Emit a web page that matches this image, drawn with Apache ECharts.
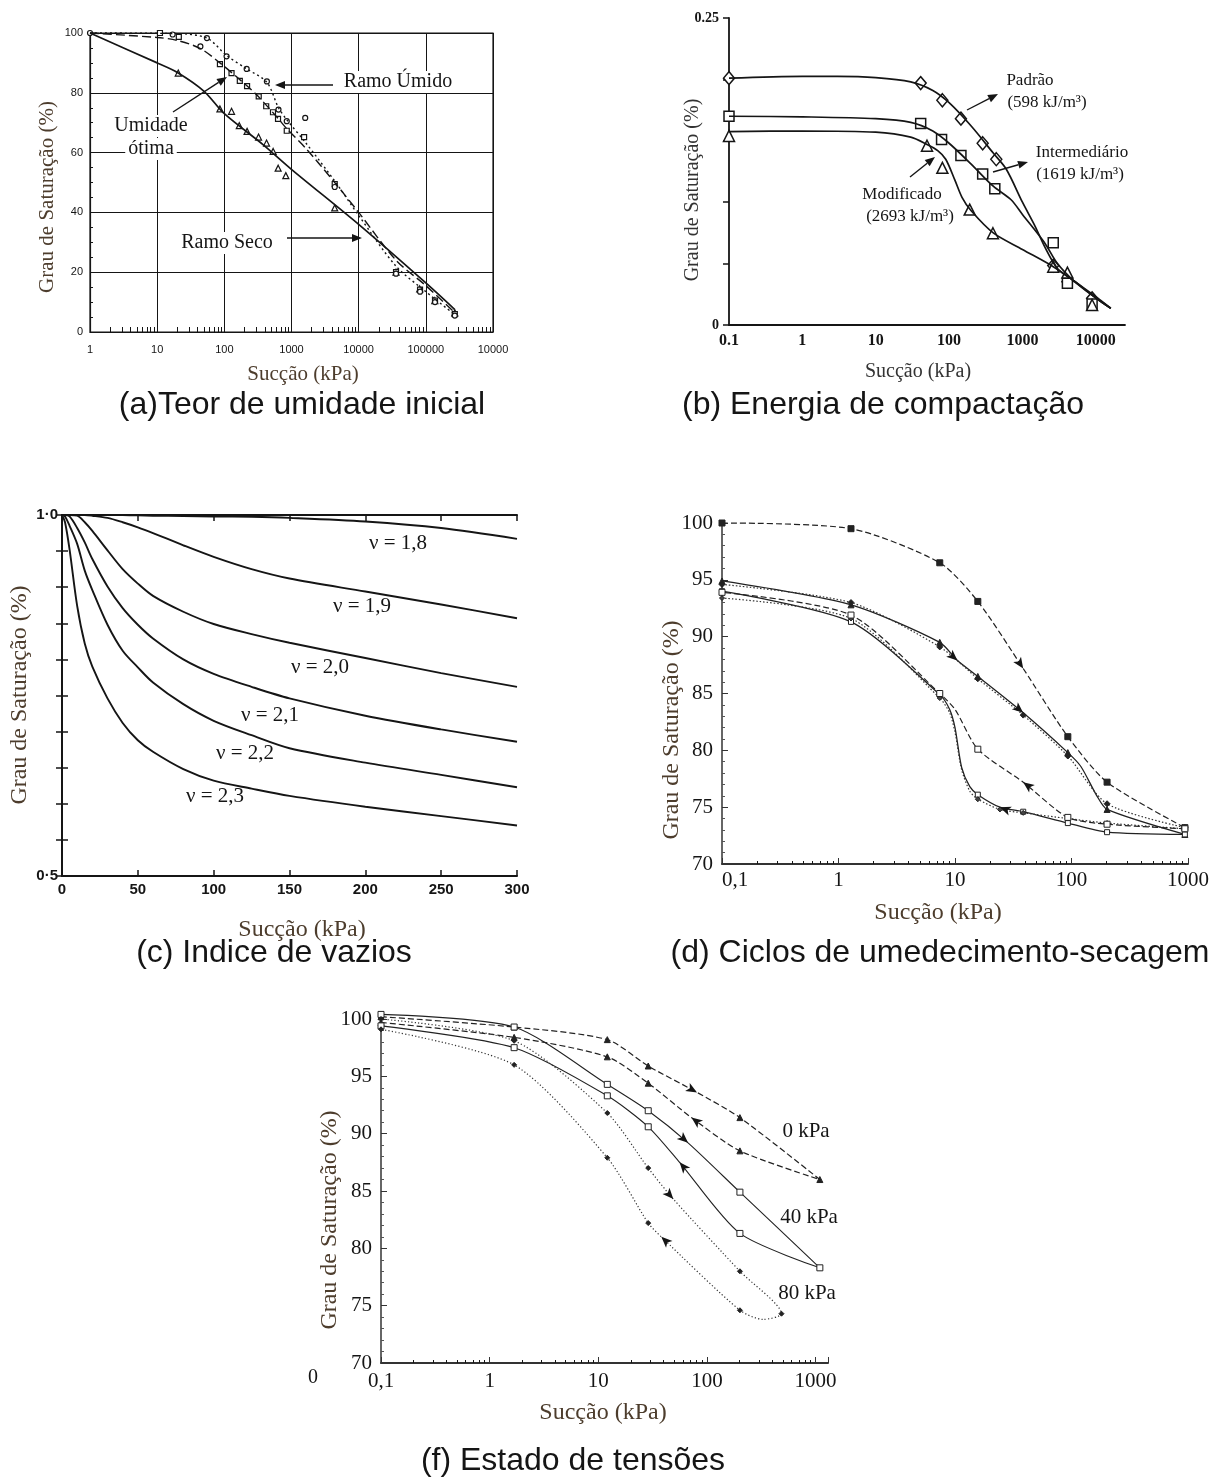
<!DOCTYPE html>
<html>
<head>
<meta charset="utf-8">
<script src="https://cdn.jsdelivr.net/npm/echarts@6/dist/echarts.min.js"></script>
<style>
  html, body { margin: 0; padding: 0; background: #fff; }
  #main { width: 1214px; height: 1479px; }
</style>
</head>
<body>
<div id="main"></div>
<script>
// ---- (a) Teor de umidade inicial ----
const aXLabels = ['1', '10', '100', '1000', '10000', '100000', '10000'];
const aSolid = [[1,100],[10,90],[20,86.8],[50,80.5],[100,73],[380,62.6],[1050,54],[10000,36],[100000,16.4],[270000,7.5]];
const aDashed = [[1,100],[10,98.5],[20,97.5],[44,94.8],[86,90],[170,84.4],[300,79.4],[600,72],[850,68],[1700,61],[4400,50],[10000,40],[36000,24],[100000,15.5],[270000,6.5]];
const aDotted = [[1,100],[20,99.8],[55,98.3],[108,92.5],[215,88],[430,83.5],[640,75],[850,71],[1600,63.5],[4400,50.5],[10000,39],[36000,22],[100000,13.5],[270000,5.8]];
const aTri = [[20.6,86.6],[86,74.6],[128,73.8],[167,69],[218,67.1],[323,65.2],[425,63.2],[533,60.4],[633,54.8],[823,52.3],[4400,41.5],[36000,20],[81000,14.4],[136000,10.5],[270000,6.4]];
const aSq = [[11,100],[21,98.7],[86,89.6],[128,86.6],[170,84],[218,82.2],[325,78.8],[420,75.5],[530,73.5],[630,71.3],[850,67.3],[1540,65.2],[4400,49.5],[36000,20],[82000,14.2],[137000,10.5],[270000,6]];
const aCirc = [[1,100],[17,99.5],[44,95.5],[55,98.3],[108,92.2],[215,88],[430,83.8],[640,74.4],[850,70.5],[1600,71.6],[4400,48.5],[36000,19.5],[82000,13.5],[137000,10],[270000,5.5]];

// ---- (b) Energia de compactação ----
const bXLabels = ['0.1', '1', '10', '100', '1000', '10000'];
const bPadraoCurve = [[0.1,0.201],[1,0.2025],[3,0.2025],[10,0.2015],[30,0.198],[60,0.191],[100,0.181],[200,0.162],[400,0.140],[600,0.127],[1000,0.100],[1500,0.080],[2000,0.064],[3000,0.046],[5000,0.036],[10000,0.023],[16000,0.0136]];
const bInterCurve = [[0.1,0.170],[1,0.1695],[10,0.168],[30,0.165],[60,0.158],[100,0.148],[200,0.131],[400,0.113],[700,0.102],[1000,0.090],[2000,0.067],[3000,0.050],[5000,0.036],[10000,0.022],[16000,0.0136]];
const bModCurve = [[0.1,0.1575],[1,0.158],[10,0.157],[30,0.153],[50,0.147],[70,0.142],[90,0.135],[120,0.118],[150,0.104],[200,0.093],[400,0.075],[1000,0.0615],[2630,0.0475],[5000,0.036],[10000,0.022],[16000,0.0136]];
const bPadraoPts = [[0.1,0.201],[41,0.197],[81,0.183],[145,0.168],[287,0.148],[440,0.135],[2630,0.0484],[4100,0.0353],[8900,0.0217]];
const bInterPts = [[0.1,0.170],[41,0.164],[79,0.151],[145,0.138],[287,0.123],[420,0.111],[2630,0.067],[4100,0.034],[8900,0.0171]];
const bModPts = [[0.1,0.154],[50,0.146],[81,0.128],[191,0.094],[396,0.0747],[2630,0.0475],[4100,0.0427],[8900,0.0163]];

// ---- (c) Indice de vazios ----
const cX = [0, 2, 5, 10, 15, 20, 30, 40, 50, 60, 80, 100, 125, 150, 200, 250, 300];
const c18 = [1.0,1.0,1.0,1.0,1.0,1.0,1.0,1.0,0.9995,0.999,0.9985,0.998,0.9975,0.996,0.991,0.982,0.967];
const c19 = [1.0,1.0,1.0,1.0,1.0,0.999,0.996,0.990,0.983,0.975,0.958,0.942,0.925,0.912,0.894,0.876,0.857];
const c20 = [1.0,1.0,1.0,0.999,0.990,0.978,0.951,0.925,0.905,0.888,0.866,0.849,0.835,0.823,0.802,0.781,0.762];
const c21 = [1.0,1.0,0.998,0.982,0.962,0.939,0.901,0.871,0.848,0.829,0.800,0.780,0.762,0.746,0.722,0.703,0.686];
const c22 = [1.0,0.998,0.985,0.960,0.923,0.896,0.848,0.812,0.789,0.768,0.738,0.715,0.695,0.677,0.657,0.640,0.623];
const c23 = [1.0,0.990,0.952,0.874,0.822,0.790,0.746,0.712,0.688,0.672,0.648,0.632,0.621,0.611,0.596,0.583,0.570];
const cNames = ['ν = 1,8', 'ν = 1,9', 'ν = 2,0', 'ν = 2,1', 'ν = 2,2', 'ν = 2,3'];

// ---- (d) Ciclos de umedecimento-secagem ----
const dXLabels = ['0,1', '1', '10', '100', '1000'];
const dTop = [[0.1,100],[1.28,99.5],[7.4,96.5],[15.7,93.1],[38.5,87.2],[93,81.2],[202,77.2],[940,73.2]];
const dUpSolid = [[0.1,94.9],[1.28,92.8],[7.4,89.5],[10.5,87.9],[15.7,86.5],[38.5,83.3],[93,79.8],[120,78.6],[165,76.0],[202,74.8],[940,72.6]];
const dUpDotted = [[0.1,94.6],[1.28,93.0],[7.4,89.1],[15.7,86.3],[38.5,83.1],[93,79.5],[202,75.3],[940,73.2]];
const dLowSolid = [[940,72.6],[202,72.8],[93,73.6],[38.5,74.6],[24.3,75.0],[15.7,76.1],[13.4,76.8],[11.4,78.5],[10,82],[9,83.6],[7.4,84.9],[1.28,91.3],[0.1,94.0]];
const dLowDotted = [[940,73.1],[202,73.6],[93,74.0],[38.5,74.5],[24.3,74.8],[15.7,75.7],[13.4,76.4],[11.4,78.3],[10,81.6],[9,83.3],[7.4,84.6],[1.28,91.6],[0.1,93.4]];
const dLowDashed = [[940,73.1],[202,73.5],[93,74.1],[38.5,77.2],[15.7,80.1],[10,83.6],[7.4,85.0],[1.28,91.9],[0.1,93.9]];

// ---- (f) Estado de tensões ----
const fXLabels = ['0,1', '1', '10', '100', '1000'];
const f0 = [[0.1,100.2],[1.68,99.3],[12.1,98.2],[28.8,95.9],[81,93.6],[201,91.4],[1094,86.0],[201,88.5],[72,91.4],[28.8,94.4],[12.1,96.7],[1.68,98.4],[0.1,99.7]];
const f40 = [[0.1,100.4],[1.68,99.3],[12.1,94.3],[28.8,92.0],[67,89.2],[201,84.9],[1094,78.3],[201,81.3],[56,87.5],[28.8,90.6],[12.1,93.3],[1.68,97.5],[0.1,99.4]];
const f80 = [[0.1,100.0],[1.68,98.1],[12.1,91.8],[28.8,87.0],[49,84.3],[201,78.0],[485,74.3],[329,73.8],[201,74.6],[38,81.0],[28.8,82.2],[12.1,87.9],[1.68,96.0],[0.1,99.1]];
const fNames = ['0 kPa', '40 kPa', '80 kPa'];

const SERIF = "'Liberation Serif', 'Times New Roman', serif";
const SANS = "'Liberation Sans', Arial, sans-serif";
const INK = '#151515';
const BROWN = '#4d3d2d';

function decadeFmt(labels, e0) {
  return function (v) {
    const e = Math.log10(v), r = Math.round(e);
    if (Math.abs(e - r) > 1e-6) return '';
    return labels[r - e0] !== undefined ? labels[r - e0] : '';
  };
}
function logMinor(lo, hi) {
  const out = [];
  for (let e = Math.floor(Math.log10(lo)); e <= Math.ceil(Math.log10(hi)); e++) {
    for (let k = 2; k <= 9; k++) {
      const v = k * Math.pow(10, e);
      if (v > lo * 1.0001 && v < hi * 0.9999) out.push(v);
    }
  }
  return out;
}
function minorAxis(grid, min, max, len) {
  return { gridIndex: grid, type: 'log', min: min, max: max, position: 'bottom',
    axisLine: { show: false }, axisLabel: { show: false }, splitLine: { show: false },
    axisTick: { show: true, inside: true, length: len, customValues: logMinor(min, max),
      lineStyle: { color: INK, width: 1 } } };
}

const ARROWS = [];
function line(xi, yi, data, ls, extra) {
  return Object.assign({ type: 'line', xAxisIndex: xi, yAxisIndex: yi, data: data, smooth: 0.3,
    symbol: 'none', clip: false, animation: false,
    lineStyle: Object.assign({ color: INK, width: 1.5 }, ls) }, extra || {});
}
function scatter(xi, yi, data, symbol, size, fill, bw) {
  return { type: 'scatter', xAxisIndex: xi, yAxisIndex: yi, data: data, symbol: symbol,
    symbolSize: size, animation: false,
    itemStyle: { color: fill || '#fff', borderColor: INK, borderWidth: bw || 1, opacity: 1 } };
}
function marked(xi, yi, pts, arrows, plain, ls, sym, size, fill) {
  const data = pts.map(function (p, i) {
    if (arrows.indexOf(i) >= 0) return { value: p, symbol: 'arrow', symbolSize: [7, 11], itemStyle: { color: INK, borderWidth: 0 } };
    if (plain.indexOf(i) >= 0) return { value: p, symbol: 'none' };
    return { value: p };
  });
  const s = line(xi, yi, data, ls, { smooth: 0.25, symbol: sym, symbolSize: size, showSymbol: true,
    itemStyle: { color: fill, borderColor: '#222', borderWidth: 1 } });
  if (arrows.length) ARROWS.push({ s: s, pts: pts, arrows: arrows, xi: xi, yi: yi });
  return s;
}

// graphic texts and arrows
const G = [];
function label(x, y, text, size, opt) {
  opt = opt || {};
  G.push({ type: 'text', x: x, y: y, rotation: opt.rot || 0, z: 50,
    style: { text: text, fill: opt.color || INK, fontSize: size, fontFamily: opt.family || SERIF,
      fontWeight: opt.weight || 'normal', align: 'center', verticalAlign: 'middle',
      backgroundColor: opt.bg, padding: opt.bg ? [1, 3] : 0 } });
}
function arrow(x1, y1, x2, y2) {
  const a = Math.atan2(y2 - y1, x2 - x1), h = 10, w = 4;
  const bx = x2 - h * Math.cos(a), by = y2 - h * Math.sin(a);
  G.push({ type: 'line', z: 50, shape: { x1: x1, y1: y1, x2: bx, y2: by }, style: { stroke: INK, lineWidth: 1.4 } });
  G.push({ type: 'polygon', z: 50, shape: { points: [[x2, y2], [bx - w * Math.sin(a), by + w * Math.cos(a)], [bx + w * Math.sin(a), by - w * Math.cos(a)]] }, style: { fill: INK } });
}

// (a) annotations
label(398, 82, 'Ramo Úmido', 20, { bg: '#fff' });
arrow(333, 85, 275, 85);
label(151, 126, 'Umidade', 20, { bg: '#fff' });
label(151, 149, 'ótima', 20, { bg: '#fff' });
arrow(173, 112, 227, 77);
label(227, 243, 'Ramo Seco', 20, { bg: '#fff' });
arrow(287, 238, 362, 238);
label(47, 197, 'Grau de Saturação (%)', 21, { rot: Math.PI / 2, color: BROWN });
label(303, 374, 'Sucção (kPa)', 21, { color: BROWN });
// (b) annotations
label(1030, 81, 'Padrão', 17);
label(1047, 103, '(598 kJ/m³)', 17);
arrow(967, 110, 998, 94);
label(1082, 153, 'Intermediário', 17);
label(1080, 175, '(1619 kJ/m³)', 17);
arrow(993, 172, 1028, 162);
label(902, 195, 'Modificado', 17);
label(910, 217, '(2693 kJ/m³)', 17);
arrow(910, 177, 935, 157);
label(693, 190, 'Grau de Saturação (%)', 20, { rot: Math.PI / 2, color: '#333' });
label(918, 372, 'Sucção (kPa)', 20, { color: '#333' });
// (c) curve labels
const cLabelPos = [[398, 543], [362, 606], [320, 667], [270, 715], [245, 753], [215, 796]];
cNames.forEach(function (n, i) { label(cLabelPos[i][0], cLabelPos[i][1], n, 21); });
label(20, 695, 'Grau de Saturação (%)', 24, { rot: Math.PI / 2, color: BROWN });
label(302, 930, 'Sucção (kPa)', 24, { color: BROWN });
// (d)
label(672, 730, 'Grau de Saturação (%)', 24, { rot: Math.PI / 2, color: BROWN });
label(938, 913, 'Sucção (kPa)', 24, { color: BROWN });
// (f)
const fLabelPos = [[806, 1131], [809, 1217], [807, 1293]];
fNames.forEach(function (n, i) { label(fLabelPos[i][0], fLabelPos[i][1], n, 21); });
label(313, 1378, '0', 20);
label(330, 1220, 'Grau de Saturação (%)', 24, { rot: Math.PI / 2, color: BROWN });
label(603, 1413, 'Sucção (kPa)', 24, { color: BROWN });
// captions
label(302, 405, '(a)Teor de umidade inicial', 32, { family: SANS });
label(883, 405, '(b) Energia de compactação', 32, { family: SANS });
label(274, 953, '(c) Indice de vazios', 32, { family: SANS });
label(940, 953, '(d) Ciclos de umedecimento-secagem', 32, { family: SANS });
label(573, 1461, '(f) Estado de tensões', 32, { family: SANS });

function zip(xs, ys) { return xs.map(function (x, i) { return [x, ys[i]]; }); }

const series = [
  // (a)
  line(0, 0, aSolid, { width: 1.7 }),
  line(0, 0, aDashed, { width: 1.4, type: [9, 4] }),
  line(0, 0, aDotted, { width: 1.4, type: [2, 3] }),
  scatter(0, 0, aTri, 'triangle', 6, '#fff', 1.2),
  scatter(0, 0, aSq, 'rect', 5, '#fff', 1.2),
  scatter(0, 0, aCirc, 'circle', 5, '#fff', 1.2),
  // (b)
  line(2, 1, bPadraoCurve, { width: 1.7 }),
  line(2, 1, bInterCurve, { width: 1.7 }),
  line(2, 1, bModCurve, { width: 1.7 }),
  scatter(2, 1, bPadraoPts, 'diamond', [11, 13], '#fff', 1.5),
  scatter(2, 1, bInterPts, 'rect', 10, '#fff', 1.5),
  scatter(2, 1, bModPts, 'triangle', 11, '#fff', 1.5)
];
[c18, c19, c20, c21, c22, c23].forEach(function (ys) {
  series.push(line(3, 2, zip(cX, ys), { width: 1.9 }, { smooth: 0.3 }));
});
series.push(
  marked(5, 4, dTop, [4], [], { width: 1.2, type: [6, 3], color: '#222' }, 'rect', 6, '#222'),
  marked(5, 4, dUpSolid, [3, 5], [7, 8], { width: 1.3, color: '#222' }, 'triangle', 6, '#222'),
  marked(5, 4, dUpDotted, [], [], { width: 1.2, type: [1.5, 2], color: '#333' }, 'diamond', 6, '#222'),
  marked(5, 4, dLowSolid, [4], [6, 7, 8, 9], { width: 1.3, color: '#222' }, 'rect', 5, '#fff'),
  marked(5, 4, dLowDotted, [], [6, 7, 8, 9], { width: 1.2, type: [1.5, 2], color: '#333' }, 'diamond', 5, '#444'),
  marked(5, 4, dLowDashed, [3], [5], { width: 1.2, type: [6, 3], color: '#222' }, 'rect', 6, '#fff'),
  marked(7, 5, f0, [4, 8], [], { width: 1.2, type: [6, 3], color: '#222' }, 'triangle', 6, '#222'),
  marked(7, 5, f40, [4, 8], [], { width: 1.1, color: '#222' }, 'rect', 6, '#fff'),
  marked(7, 5, f80, [4, 9], [7], { width: 1.2, type: [1.2, 2.2], color: '#333' }, 'diamond', 5, '#222')
);

const option = {
  animation: false,
  backgroundColor: '#fff',
  textStyle: { fontFamily: SERIF },
  grid: [
    { left: 90, top: 33, width: 403, height: 299, show: true, borderColor: INK, borderWidth: 1.2 },
    { left: 729, top: 18, width: 396, height: 307 },
    { left: 62, top: 515, width: 455, height: 361 },
    { left: 722, top: 523, width: 466, height: 341 },
    { left: 381, top: 1019, width: 447, height: 344 }
  ],
  xAxis: [
    { gridIndex: 0, type: 'log', min: 1, max: 1e6, position: 'bottom',
      axisLine: { lineStyle: { color: INK, width: 1.2 } }, axisTick: { show: false },
      axisLabel: { formatter: decadeFmt(aXLabels, 0), color: INK, fontFamily: SANS, fontSize: 11, margin: 12 },
      splitLine: { show: true, lineStyle: { color: INK, width: 1 } } },
    minorAxis(0, 1, 1e6, 5),
    { gridIndex: 1, type: 'log', min: 0.1, max: 25000,
      axisLine: { lineStyle: { color: INK, width: 1.8 } }, axisTick: { show: false },
      axisLabel: { formatter: decadeFmt(bXLabels, -1), color: INK, fontFamily: SERIF, fontWeight: 'bold', fontSize: 16, margin: 8 },
      splitLine: { show: false } },
    { gridIndex: 2, type: 'value', min: 0, max: 300, interval: 50,
      axisLine: { lineStyle: { color: INK, width: 2 } },
      axisTick: { inside: true, length: 6, lineStyle: { color: INK, width: 1.5 } },
      axisLabel: { color: INK, fontFamily: SANS, fontWeight: 'bold', fontSize: 15, margin: 6 },
      splitLine: { show: false } },
    { gridIndex: 2, type: 'value', position: 'top', min: 0, max: 300, interval: 50,
      axisLine: { lineStyle: { color: INK, width: 2 } },
      axisTick: { inside: true, length: 6, lineStyle: { color: INK, width: 1.5 } },
      axisLabel: { show: false }, splitLine: { show: false } },
    { gridIndex: 3, type: 'log', min: 0.1, max: 1000, position: 'bottom',
      axisLine: { lineStyle: { color: '#333', width: 2 } },
      axisTick: { inside: true, length: 6, lineStyle: { color: '#333' } },
      axisLabel: { formatter: decadeFmt(dXLabels, -1), color: INK, fontFamily: SERIF, fontSize: 21, margin: 6, alignMinLabel: 'left' },
      splitLine: { show: false } },
    minorAxis(3, 0.1, 1000, 3),
    { gridIndex: 4, type: 'log', min: 0.1, max: 1300, position: 'bottom',
      axisLine: { lineStyle: { color: '#333', width: 2 } },
      axisTick: { inside: true, length: 6, lineStyle: { color: '#333' } },
      axisLabel: { formatter: decadeFmt(fXLabels, -1), color: INK, fontFamily: SERIF, fontSize: 21, margin: 8 },
      splitLine: { show: false } },
    minorAxis(4, 0.1, 1300, 3)
  ],
  yAxis: [
    { gridIndex: 0, type: 'value', min: 0, max: 100, interval: 20,
      axisLine: { show: true, lineStyle: { color: INK, width: 1.2 } },
      axisTick: { show: true, inside: true, length: 4, lineStyle: { color: INK } },
      minorTick: { show: true, splitNumber: 4, length: 3, lineStyle: { color: INK } },
      axisLabel: { color: INK, fontFamily: SANS, fontSize: 11, margin: 7 },
      splitLine: { show: true, lineStyle: { color: INK, width: 1 } } },
    { gridIndex: 1, type: 'value', min: 0, max: 0.25, interval: 0.05,
      axisLine: { show: true, lineStyle: { color: INK, width: 1.8 } },
      axisTick: { show: true, length: 6, lineStyle: { color: INK, width: 1.5 } },
      axisLabel: { color: INK, fontFamily: SERIF, fontWeight: 'bold', fontSize: 14, margin: 10,
        formatter: function (v) { return Math.abs(v) < 1e-9 ? '0' : (Math.abs(v - 0.25) < 1e-9 ? '0.25' : ''); } },
      splitLine: { show: false } },
    { gridIndex: 2, type: 'value', min: 0.5, max: 1.0, interval: 0.05,
      axisLine: { show: true, lineStyle: { color: INK, width: 2 } },
      axisTick: { show: true, inside: true, length: 6, lineStyle: { color: INK, width: 1.5 } },
      axisLabel: { color: INK, fontFamily: SANS, fontWeight: 'bold', fontSize: 15, margin: 4,
        formatter: function (v) { return Math.abs(v - 1) < 1e-9 ? '1·0' : (Math.abs(v - 0.5) < 1e-9 ? '0·5' : ''); } },
      splitLine: { show: false } },
    { gridIndex: 2, type: 'value', position: 'right', min: 0.5, max: 1.0, interval: 0.05,
      axisLine: { show: true, lineStyle: { color: INK, width: 2 } },
      axisTick: { show: true, inside: true, length: 6, lineStyle: { color: INK, width: 1.5 } },
      axisLabel: { show: false }, splitLine: { show: false } },
    { gridIndex: 3, type: 'value', min: 70, max: 100, interval: 5,
      axisLine: { show: true, lineStyle: { color: '#333', width: 1.5 } },
      axisTick: { show: true, inside: true, length: 6, lineStyle: { color: '#333' } },
      minorTick: { show: true, splitNumber: 5, length: 3, lineStyle: { color: '#555' } },
      axisLabel: { color: INK, fontFamily: SERIF, fontSize: 21, margin: 9 },
      splitLine: { show: false } },
    { gridIndex: 4, type: 'value', min: 70, max: 100, interval: 5,
      axisLine: { show: true, lineStyle: { color: '#333', width: 1.5 } },
      axisTick: { show: true, inside: true, length: 6, lineStyle: { color: '#333' } },
      minorTick: { show: true, splitNumber: 5, length: 3, lineStyle: { color: '#555' } },
      axisLabel: { color: INK, fontFamily: SERIF, fontSize: 21, margin: 9 },
      splitLine: { show: false } }
  ],
  series: series,
  graphic: { elements: G }
};

const chart = echarts.init(document.getElementById('main'));
chart.setOption(option);

// turn the arrow markers along their curve
ARROWS.forEach(function (a) {
  a.arrows.forEach(function (i) {
    const finder = { xAxisIndex: a.xi, yAxisIndex: a.yi };
    const p0 = chart.convertToPixel(finder, a.pts[i - 1]);
    const p1 = chart.convertToPixel(finder, a.pts[i + 1]);
    const ang = Math.atan2(-(p1[1] - p0[1]), p1[0] - p0[0]) * 180 / Math.PI - 90;
    a.s.data[i].symbolRotate = ang;
  });
});
chart.setOption(option);
</script>
</body>
</html>
